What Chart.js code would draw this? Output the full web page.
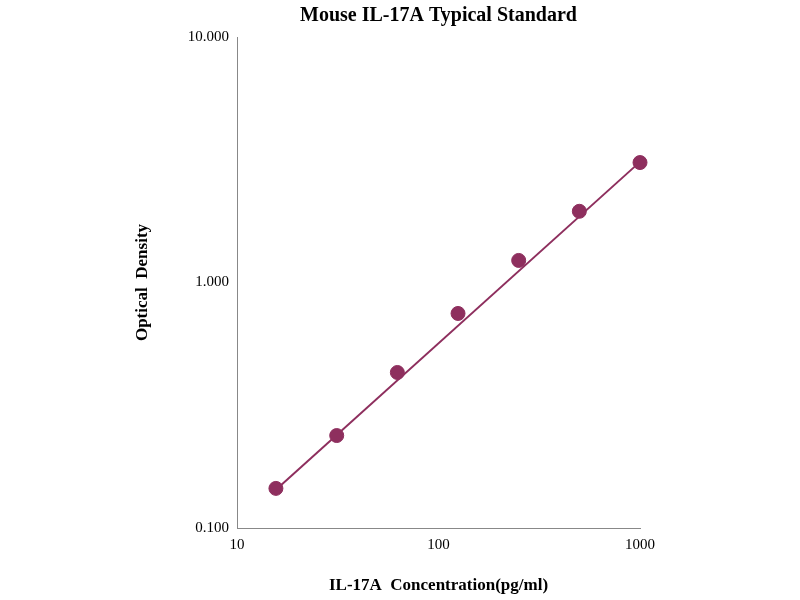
<!DOCTYPE html>
<html><head><script src="https://cdn.jsdelivr.net/npm/chart.js@4"></script>
<style>body{margin:0;background:#fff}</style></head>
<body><div style="width:800px;height:600px"><canvas id="c"></canvas></div>
<script>
const concentrations=[15.6,31.25,62.5,125,250,500,1000];
const odValues=[0.145,0.238,0.43,0.748,1.23,1.95,3.08];
const fitX=[15.6,1000];
const fitY=[0.143,3.1];
const xTicks=[10,100,1000];
const yTicks=[0.1,1,10];
const titleText='Mouse IL-17A Typical Standard';
const col='#8E2F5E';
const serif='"Liberation Serif","Times New Roman",serif';
const titlePlugin={id:'ctitle',afterDraw(ch){const c=ch.ctx,a=ch.chartArea;c.save();c.font='bold 20px '+serif;c.fillStyle='#000';c.textAlign='center';c.textBaseline='middle';c.fillText(titleText,(a.left+a.right)/2,16);c.restore();}};
new Chart(document.getElementById('c'),{
 type:'scatter',
 data:{datasets:[
  {data:fitX.map((x,i)=>({x,y:fitY[i]})),showLine:true,borderColor:col,borderWidth:2,pointRadius:0,clip:false},
  {data:concentrations.map((x,i)=>({x,y:odValues[i]})),backgroundColor:col,borderColor:col,pointRadius:7,clip:false}
 ]},
 plugins:[titlePlugin],
 options:{responsive:true,maintainAspectRatio:false,animation:false,
  layout:{padding:{left:128,right:160,top:37,bottom:0}},
  plugins:{legend:{display:false},tooltip:{enabled:false},title:{display:false}},
  scales:{
   x:{type:'logarithmic',min:10,max:1000,
    afterBuildTicks:s=>{s.ticks=xTicks.map(v=>({value:v}))},
    afterFit:s=>{s.height=72},
    grid:{display:false,drawTicks:true,tickLength:5,color:'#888'},border:{color:'#888'},
    ticks:{color:'#000',font:{family:serif,size:15},callback:v=>String(v),maxRotation:0},
    title:{display:true,text:'IL-17A  Concentration(pg/ml)',color:'#000',font:{family:serif,size:17,weight:'bold'}}},
   y:{type:'logarithmic',min:0.1,max:10,
    afterBuildTicks:s=>{s.ticks=yTicks.map(v=>({value:v}))},
    afterFit:s=>{s.width=237-128},
    grid:{display:false,drawTicks:true,tickLength:5,color:'#888'},border:{color:'#888'},
    ticks:{color:'#000',font:{family:serif,size:15},callback:v=>Number(v).toFixed(3)},
    title:{display:true,text:'Optical  Density',color:'#000',font:{family:serif,size:17,weight:'bold'}}}
  }}
});
</script></body></html>
